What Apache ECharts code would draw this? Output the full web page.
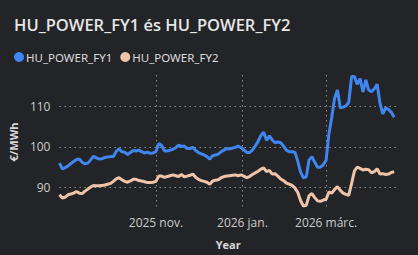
<!DOCTYPE html>
<html>
<head>
<meta charset="utf-8">
<script src="https://cdn.jsdelivr.net/npm/echarts@6/dist/echarts.min.js"></script>
<style>
html,body{margin:0;padding:0;background:#232428;}
#c{width:418px;height:255px;}
</style>
</head>
<body>
<div id="c"></div>
<script>
const dates = [
'2025-08-25','2025-08-27','2025-08-29','2025-08-31','2025-09-02','2025-09-04','2025-09-06','2025-09-08','2025-09-10','2025-09-12',
'2025-09-14','2025-09-16','2025-09-18','2025-09-20','2025-09-22','2025-09-24','2025-09-26','2025-09-28','2025-09-30','2025-10-02',
'2025-10-04','2025-10-06','2025-10-08','2025-10-10','2025-10-12','2025-10-14','2025-10-16','2025-10-18','2025-10-20','2025-10-22',
'2025-10-24','2025-10-26','2025-10-28','2025-10-30','2025-11-01','2025-11-03','2025-11-05','2025-11-07','2025-11-09','2025-11-11',
'2025-11-13','2025-11-15','2025-11-17','2025-11-19','2025-11-21','2025-11-23','2025-11-25','2025-11-27','2025-11-29','2025-12-01',
'2025-12-03','2025-12-05','2025-12-07','2025-12-09','2025-12-11','2025-12-13','2025-12-15','2025-12-17','2025-12-19','2025-12-21',
'2025-12-23','2025-12-25','2025-12-27','2025-12-29','2025-12-31','2026-01-02','2026-01-04','2026-01-06','2026-01-08','2026-01-10',
'2026-01-12','2026-01-14','2026-01-16','2026-01-18','2026-01-20','2026-01-22','2026-01-24','2026-01-26','2026-01-28','2026-01-30',
'2026-02-01','2026-02-03','2026-02-05','2026-02-07','2026-02-09','2026-02-11','2026-02-13','2026-02-15','2026-02-17','2026-02-19',
'2026-02-21','2026-02-23','2026-02-25','2026-02-27','2026-03-01','2026-03-03','2026-03-05','2026-03-07','2026-03-09','2026-03-11',
'2026-03-13','2026-03-15','2026-03-17','2026-03-19','2026-03-21','2026-03-23','2026-03-25','2026-03-27','2026-03-29','2026-03-31',
'2026-04-02','2026-04-04','2026-04-06','2026-04-08','2026-04-10','2026-04-12','2026-04-14','2026-04-16','2026-04-18'
];
const fy1 = [
96.0,94.6,94.9,95.3,95.9,96.4,96.9,97.0,96.2,95.8,
96.0,96.8,97.7,97.3,97.0,97.1,97.4,97.5,97.6,97.6,
98.9,99.5,98.8,98.7,98.1,98.6,99.1,99.0,99.2,98.8,
98.5,98.7,98.4,98.5,98.8,100.8,100.4,99.0,99.0,99.2,
99.4,99.8,100.4,100.1,100.2,99.6,99.6,99.9,99.1,98.6,
98.3,98.0,97.6,97.0,97.8,98.0,98.2,98.8,99.2,99.6,
99.5,99.7,99.9,100.2,99.8,99.3,98.6,98.6,99.2,100.2,
101.3,102.8,103.6,101.6,102.7,101.7,101.0,101.2,101.0,100.2,
99.2,98.8,98.8,98.7,96.5,93.8,92.4,92.6,96.8,97.6,
96.2,95.0,95.0,95.6,96.7,103.2,107.3,112.0,114.0,109.6,
109.8,110.1,111.0,117.3,117.3,115.4,116.8,113.5,116.5,114.0,
113.6,114.3,115.4,110.8,108.1,109.6,109.2,108.5,107.3
];
const fy2 = [
88.2,87.4,87.6,88.2,88.4,88.6,89.0,88.6,88.5,89.1,
89.6,90.1,90.5,90.4,90.4,90.5,90.6,90.8,91.0,91.5,
92.1,92.4,91.9,91.5,91.3,91.6,92.0,92.0,91.7,91.6,
91.4,91.2,91.2,91.3,91.5,92.8,92.8,92.5,92.7,92.9,
93.1,92.9,92.7,93.2,92.6,92.8,93.0,93.3,92.5,92.0,
91.7,91.5,91.3,90.8,91.6,91.8,91.9,92.4,92.7,92.8,
92.9,93.0,93.1,92.9,93.1,92.8,92.4,92.7,93.2,93.6,
94.0,94.5,94.8,93.9,94.2,93.3,93.4,92.8,92.1,91.7,
91.1,90.8,90.5,89.9,88.8,86.8,85.4,85.6,88.0,88.5,
87.5,86.7,86.6,86.9,87.1,88.9,88.6,89.5,90.2,89.3,
88.6,88.3,88.1,91.0,94.1,95.0,94.7,94.3,94.5,94.4,
93.6,93.9,94.6,93.3,93.4,93.2,93.3,93.7,93.9
];
const seriesNames = ['HU_POWER_FY1','HU_POWER_FY2'];
const xTickDates = ['2025-11-01','2026-01-01','2026-03-01'];
const xTickLabels = ['2025 nov.','2026 jan.','2026 márc.'];
const yTicks = [90,100,110];

const ts = s => echarts.number.parseDate(s).getTime();
const xTickTs = xTickDates.map(ts);
const chart = echarts.init(document.getElementById('c'), null, {renderer:'svg'});
const gridLine = {show:true, lineStyle:{color:'#8c8c8c', width:1, type:[1.5,3.5]}};
chart.setOption({
  backgroundColor:'#232428',
  animation:false,
  title:{text:'HU_POWER_FY1 és HU_POWER_FY2', left:9, top:11,
    textStyle:{color:'#e6e6e6', fontSize:16.5, fontWeight:600, fontFamily:'Open Sans'}},
  legend:{left:9, top:46, icon:'circle', itemWidth:10, itemHeight:10, itemGap:8,
    textStyle:{color:'#dcdcdc', fontSize:11.5, fontFamily:'Noto Sans', padding:[0,0,0,-3]},
    data:seriesNames},
  grid:{left:57, right:21, top:75, bottom:37},
  xAxis:{type:'value', min:ts('2025-08-25'), max:ts('2026-04-20'),
    name:'Year', nameLocation:'middle', nameGap:30,
    nameTextStyle:{color:'#d8d8d8', fontSize:11, fontWeight:'bold', fontFamily:'Open Sans'},
    axisLine:{show:false}, axisTick:{show:false, customValues:xTickTs},
    axisLabel:{customValues:xTickTs, color:'#cccccc', fontSize:12, fontFamily:'Open Sans', margin:7,
      formatter:v=>{const i=xTickTs.indexOf(v); return i>=0?xTickLabels[i]:'';}},
    splitLine:gridLine},
  yAxis:{type:'value', min:84.7, max:117.7,
    name:'€/MWh', nameLocation:'middle', nameGap:32, nameRotate:90,
    nameTextStyle:{color:'#d8d8d8', fontSize:11, fontWeight:'bold', fontFamily:'Open Sans'},
    axisLine:{show:false}, axisTick:{show:false, customValues:yTicks},
    axisLabel:{customValues:yTicks, color:'#cccccc', fontSize:12, fontFamily:'Open Sans', margin:9},
    splitLine:gridLine},
  series:[
    {name:seriesNames[0], type:'line', showSymbol:false, color:'#3f86f0',
      lineStyle:{width:3}, data:dates.map((d,i)=>[ts(d),fy1[i]])},
    {name:seriesNames[1], type:'line', showSymbol:false, color:'#efc4a8',
      lineStyle:{width:3}, data:dates.map((d,i)=>[ts(d),fy2[i]])}
  ]
});
</script>
</body>
</html>
